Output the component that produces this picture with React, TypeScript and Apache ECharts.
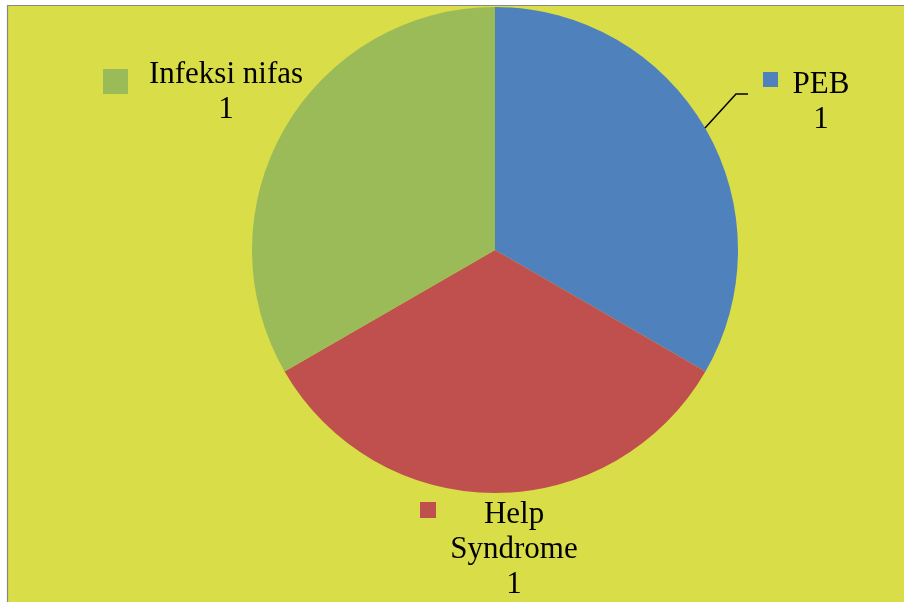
import React, { useEffect, useRef } from "react";
import * as echarts from "echarts";

const categories = ["PEB", "Help Syndrome", "Infeksi nifas"];
const values = [1, 1, 1];
const colors = ["#4F81BD", "#C0504D", "#9BBB59"];

// label placement (layout only)
const labelPlaces = [
  { cx: 821, baseline: 93, wrap: false, mx: 763, my: 72, ms: 15 },
  { cx: 514, baseline: 523, wrap: true, mx: 420, my: 502, ms: 16 },
  { cx: 226, baseline: 83, wrap: false, mx: 103, my: 69, ms: 25 },
];

const FONT = 31;
const LINE_H = 35;
const FAMILY = "'Liberation Serif', 'Times New Roman', Times, serif";

export default function App() {
  const ref = useRef<HTMLDivElement>(null);
  useEffect(() => {
    if (!ref.current) return;
    const chart = echarts.init(ref.current, undefined, { renderer: "svg" });
    const graphics: any[] = [
      {
        type: "rect",
        z: -10,
        shape: { x: 7.5, y: 5.5, width: 1000, height: 1000 },
        style: { fill: "#D9DD47", stroke: "#888888", lineWidth: 1.2 },
      },
    ];
    categories.forEach((name, i) => {
      const p = labelPlaces[i];
      const lines = (p.wrap ? name.split(" ") : [name]).concat([String(values[i])]);
      graphics.push({
        type: "rect",
        z: 10,
        shape: { x: p.mx, y: p.my, width: p.ms, height: p.ms },
        style: { fill: colors[i] },
      });
      lines.forEach((t, k) => {
        graphics.push({
          type: "text",
          z: 10,
          x: p.cx,
          y: p.baseline + k * LINE_H - 10.5,
          style: {
            text: t,
            fill: "#000",
            font: `${FONT}px ${FAMILY}`,
            align: "center",
            verticalAlign: "middle",
          },
        });
      });
    });
    // leader line for first slice
    graphics.push({
      type: "polyline",
      z: 10,
      shape: { points: [[705, 128], [736, 94], [748, 94]] },
      style: { stroke: "#000", lineWidth: 1.5, fill: "none" },
    });
    chart.setOption({
      animation: false,
      graphic: graphics,
      series: [
        {
          type: "pie",
          center: [495, 250],
          radius: [0, 243],
          startAngle: 90,
          clockwise: true,
          label: { show: false },
          labelLine: { show: false },
          itemStyle: { borderWidth: 0 },
          emphasis: { disabled: true },
          data: categories.map((c, i) => ({
            name: c,
            value: values[i],
            itemStyle: { color: colors[i] },
          })),
        },
      ],
    });
    return () => chart.dispose();
  }, []);
  return (
    <div
      ref={ref}
      style={{ position: "fixed", left: 0, top: 0, width: 904, height: 602 }}
    />
  );
}
